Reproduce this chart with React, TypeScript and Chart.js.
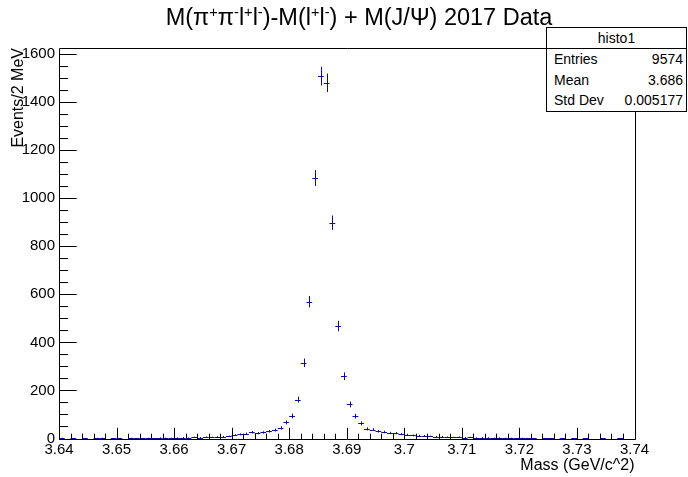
import React, { useEffect, useRef } from "react";
import { Chart, registerables } from "chart.js";

Chart.register(...registerables);

// ---------------- data ----------------
const histName = "histo1";
const binLow = 3.64;
const binWidth = 0.001;
// 100 bins of 1 MeV, 3.640 .. 3.740 GeV
const binCounts = [
  2, 0, 1, 0, 1, 0, 1, 2, 0, 1,
  1, 0, 2, 1, 1, 2, 1, 3, 2, 2,
  3, 4, 3, 5, 4, 6, 5, 7, 8, 9,
  14, 17, 20, 26, 22, 25, 30, 35, 44, 67,
  94, 162, 315, 569, 1084, 1508, 1480, 898, 468, 259,
  142, 93, 63, 40, 37, 30, 27, 23, 22, 18,
  16, 13, 12, 11, 9, 8, 8, 6, 5, 6,
  4, 5, 3, 4, 3, 2, 3, 2, 2, 1,
  2, 1, 1, 0, 1, 1, 0, 1, 0, 1,
  0, 1, 0, 0, 1, 0, 0, 1, 0, 0,
];
const xTickValues = [3.64, 3.65, 3.66, 3.67, 3.68, 3.69, 3.7, 3.71, 3.72, 3.73, 3.74];
const xTickLabels = ["3.64", "3.65", "3.66", "3.67", "3.68", "3.69", "3.7", "3.71", "3.72", "3.73", "3.74"];
const yTickValues = [0, 200, 400, 600, 800, 1000, 1200, 1400, 1600];
const yTickLabels = ["0", "200", "400", "600", "800", "1000", "1200", "1400", "1600"];
const xMin = 3.64;
const xMax = 3.74;
const yMin = 0;
const yMax = 1625;
const statsRows = [
  ["Entries", "9574"],
  ["Mean", "3.686"],
  ["Std Dev", "0.005177"],
];

// ---------------- style ----------------
const FONT = '"Liberation Sans", Arial, Helvetica, sans-serif';
const markerColor = "#0b0ba2";

const rootPlugin = {
  id: "rootStyle",
  afterDatasetsDraw(chart: any) {
    const { ctx, chartArea: a, scales } = chart;
    const x = scales.x;
    const y = scales.y;
    const meta = chart.getDatasetMeta(0);
    ctx.save();
    // error bars
    ctx.strokeStyle = markerColor;
    ctx.lineWidth = 1;
    meta.data.forEach((pt: any, i: number) => {
      const v = binCounts[i];
      if (v <= 0) return;
      const e = Math.sqrt(v);
      const c = binLow + binWidth * (i + 0.5);
      const px = Math.round(pt.x) + 0.5;
      const py = Math.round(pt.y) + 0.5;
      const top = y.getPixelForValue(v + e);
      const bot = y.getPixelForValue(Math.max(0, v - e));
      const l = x.getPixelForValue(c - binWidth / 2);
      const r = x.getPixelForValue(c + binWidth / 2);
      ctx.beginPath();
      ctx.moveTo(px, top);
      ctx.lineTo(px, bot);
      ctx.moveTo(l, py);
      ctx.lineTo(r, py);
      ctx.stroke();
    });

    // frame
    ctx.strokeStyle = "#000";
    ctx.lineWidth = 1;
    const L = Math.round(a.left) + 0.5;
    const R = Math.round(a.right) + 0.5;
    const T = Math.round(a.top) + 0.5;
    const B = Math.round(a.bottom) + 0.5;
    ctx.beginPath();
    ctx.rect(L, T, R - L, B - T);
    ctx.stroke();

    // y ticks (inside)
    const yMajorLen = 0.03 * (a.right - a.left);
    ctx.beginPath();
    for (let v = 0; v <= yMax + 1e-9; v += 50) {
      const py = Math.round(y.getPixelForValue(v)) + 0.5;
      const len = v % 200 === 0 ? yMajorLen : yMajorLen / 2;
      ctx.moveTo(L, py);
      ctx.lineTo(L + len, py);
    }
    // x ticks (inside)
    const xMajorLen = 0.03 * (a.bottom - a.top);
    for (let k = 0; k <= 50; k++) {
      const v = xMin + k * 0.002;
      const px = Math.round(x.getPixelForValue(v)) + 0.5;
      const len = k % 5 === 0 ? xMajorLen : xMajorLen / 2;
      ctx.moveTo(px, B);
      ctx.lineTo(px, B - len);
    }
    ctx.stroke();
    ctx.restore();
  },
};

function HistChart() {
  const ref = useRef<HTMLCanvasElement | null>(null);
  useEffect(() => {
    if (!ref.current) return;
    const chart = new Chart(ref.current, {
      type: "scatter",
      data: {
        datasets: [
          {
            label: histName,
            data: binCounts.map((c, i) => ({ x: binLow + binWidth * (i + 0.5), y: c })),
            pointRadius: 0,
            pointHoverRadius: 0,
            showLine: false,
          },
        ],
      },
      options: {
        responsive: false,
        animation: false,
        events: [],
        layout: { padding: { left: 0, top: 48, right: 53.5, bottom: 0 } },
        plugins: { legend: { display: false }, tooltip: { enabled: false }, title: { display: false } },
        scales: {
          x: {
            type: "linear",
            min: xMin,
            max: xMax,
            grid: { display: false, drawTicks: false },
            border: { display: false },
            ticks: {
              autoSkip: false,
              maxRotation: 0,
              padding: 2,
              color: "#000",
              font: { family: FONT, size: 15 },
              callback: (_v: any, i: number) => xTickLabels[i],
            },
            afterBuildTicks: (s: any) => {
              s.ticks = xTickValues.map((v) => ({ value: v }));
            },
            afterFit: (s: any) => {
              s.height = 38.5;
            },
            title: {
              display: true,
              text: "Mass (GeV/c^2)",
              align: "end",
              color: "#000",
              font: { family: FONT, size: 16 },
              padding: { top: 0, bottom: 2 },
            },
          },
          y: {
            type: "linear",
            min: yMin,
            max: yMax,
            grid: { display: false, drawTicks: false },
            border: { display: false },
            ticks: {
              autoSkip: false,
              padding: 4,
              color: "#000",
              font: { family: FONT, size: 15 },
              callback: (_v: any, i: number) => yTickLabels[i],
            },
            afterBuildTicks: (s: any) => {
              s.ticks = yTickValues.map((v) => ({ value: v }));
            },
            afterFit: (s: any) => {
              s.width = 59;
            },
            title: {
              display: true,
              text: "Events/2 MeV",
              align: "end",
              color: "#000",
              font: { family: FONT, size: 16 },
              padding: { top: 9, bottom: 0 },
            },
          },
        },
      } as any,
      plugins: [rootPlugin],
    });
    return () => chart.destroy();
  }, []);
  return <canvas ref={ref} width={688} height={477} style={{ position: "absolute", left: 0, top: 0, width: 688, height: 477 }} />;
}

const sup: React.CSSProperties = { fontSize: "0.62em", verticalAlign: "0.55em", lineHeight: 0 };

export default function App() {
  return (
    <div style={{ position: "fixed", left: 0, top: 0, width: 688, height: 477, background: "#fff", fontFamily: FONT, color: "#000" }}>
      <HistChart />
      <div style={{ position: "absolute", left: 0, top: 6, width: 718, textAlign: "center", fontSize: 23.5, lineHeight: "22px", whiteSpace: "nowrap" }}>
        M(π<span style={sup}>+</span>π<span style={sup}>-</span>l<span style={sup}>+</span>l<span style={sup}>-</span>)-M(l<span style={sup}>+</span>l<span style={sup}>-</span>) + M(J/Ψ) 2017 Data
      </div>
      <div style={{ position: "absolute", left: 546, top: 27, width: 141, height: 85, boxSizing: "border-box", border: "1px solid #000", background: "#fff", fontSize: 14 }}>
        <div style={{ height: 20, lineHeight: "20px", textAlign: "center", borderBottom: "1px solid #000" }}>{histName}</div>
        {statsRows.map(([k, v]) => (
          <div key={k} style={{ display: "flex", justifyContent: "space-between", height: 20.5, lineHeight: "20.5px", padding: "0 3px 0 7px" }}>
            <span>{k}</span>
            <span>{v}</span>
          </div>
        ))}
      </div>
    </div>
  );
}
